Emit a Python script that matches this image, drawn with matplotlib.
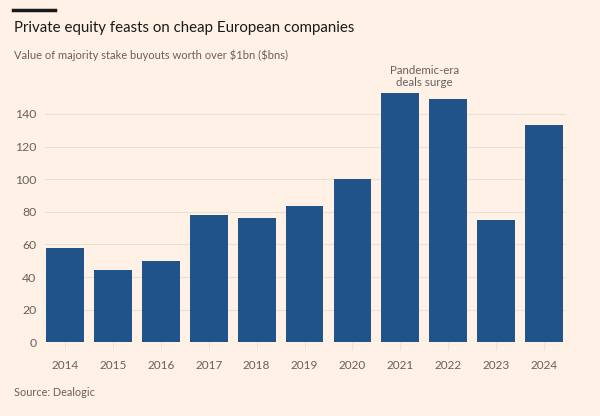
import matplotlib
matplotlib.use("Agg")
import matplotlib.pyplot as plt
from matplotlib.lines import Line2D

years = ["2014", "2015", "2016", "2017", "2018", "2019", "2020", "2021", "2022", "2023", "2024"]
values = [57.6, 44.5, 49.8, 78, 76.4, 83.4, 100, 153, 149, 75, 133.5]
yticks = [0, 20, 40, 60, 80, 100, 120, 140]

BG = "#FFF1E5"
BAR = "#1F538A"
TXT = "#66605C"
GRID = "#EBDFD4"

plt.rcParams["font.family"] = ["Lato", "DejaVu Sans"]

fig = plt.figure(figsize=(6, 4.16), dpi=100, facecolor=BG)
ax = fig.add_axes([0.0748, 0.177, 0.868, 0.608], facecolor=BG)

x = list(range(len(years)))
ax.bar(x, values, width=0.79, color=BAR, zorder=3)

ax.set_xlim(-0.42, len(years) - 1 + 0.45)
ax.set_ylim(0, 155)
ax.set_yticks(yticks)
ax.set_yticklabels([str(v) for v in yticks])
ax.set_xticks(x)
ax.set_xticklabels(years)
ax.grid(axis="y", color=GRID, linewidth=0.8, zorder=0)
for s in ax.spines.values():
    s.set_visible(False)
ax.tick_params(axis="y", length=0, pad=6, labelsize=8.8, labelcolor=TXT)
ax.tick_params(axis="x", length=6, width=0.6, color=GRID, pad=7, labelsize=8.5, labelcolor=TXT)

ax.text(7.5, 156, "Pandemic-era\ndeals surge", ha="center", va="bottom",
        fontsize=8.3, color=TXT, linespacing=1.1)

fig.add_artist(Line2D([13/600, 55/600], [1 - 10/416, 1 - 10/416],
                      color="#1a1a1a", linewidth=2.5, transform=fig.transFigure))
fig.text(14/600, 1 - 28/416, "Private equity feasts on cheap European companies",
         fontsize=10.8, color="#1a1a1a", va="center", ha="left")
fig.text(14/600, 1 - 55/416, "Value of majority stake buyouts worth over \\$1bn (\\$bns)",
         fontsize=8.0, color=TXT, va="center", ha="left")
fig.text(14/600, 1 - 393/416, "Source: Dealogic",
         fontsize=7.8, color=TXT, va="center", ha="left")

fig.savefig("out.png", dpi=100, facecolor=BG)
